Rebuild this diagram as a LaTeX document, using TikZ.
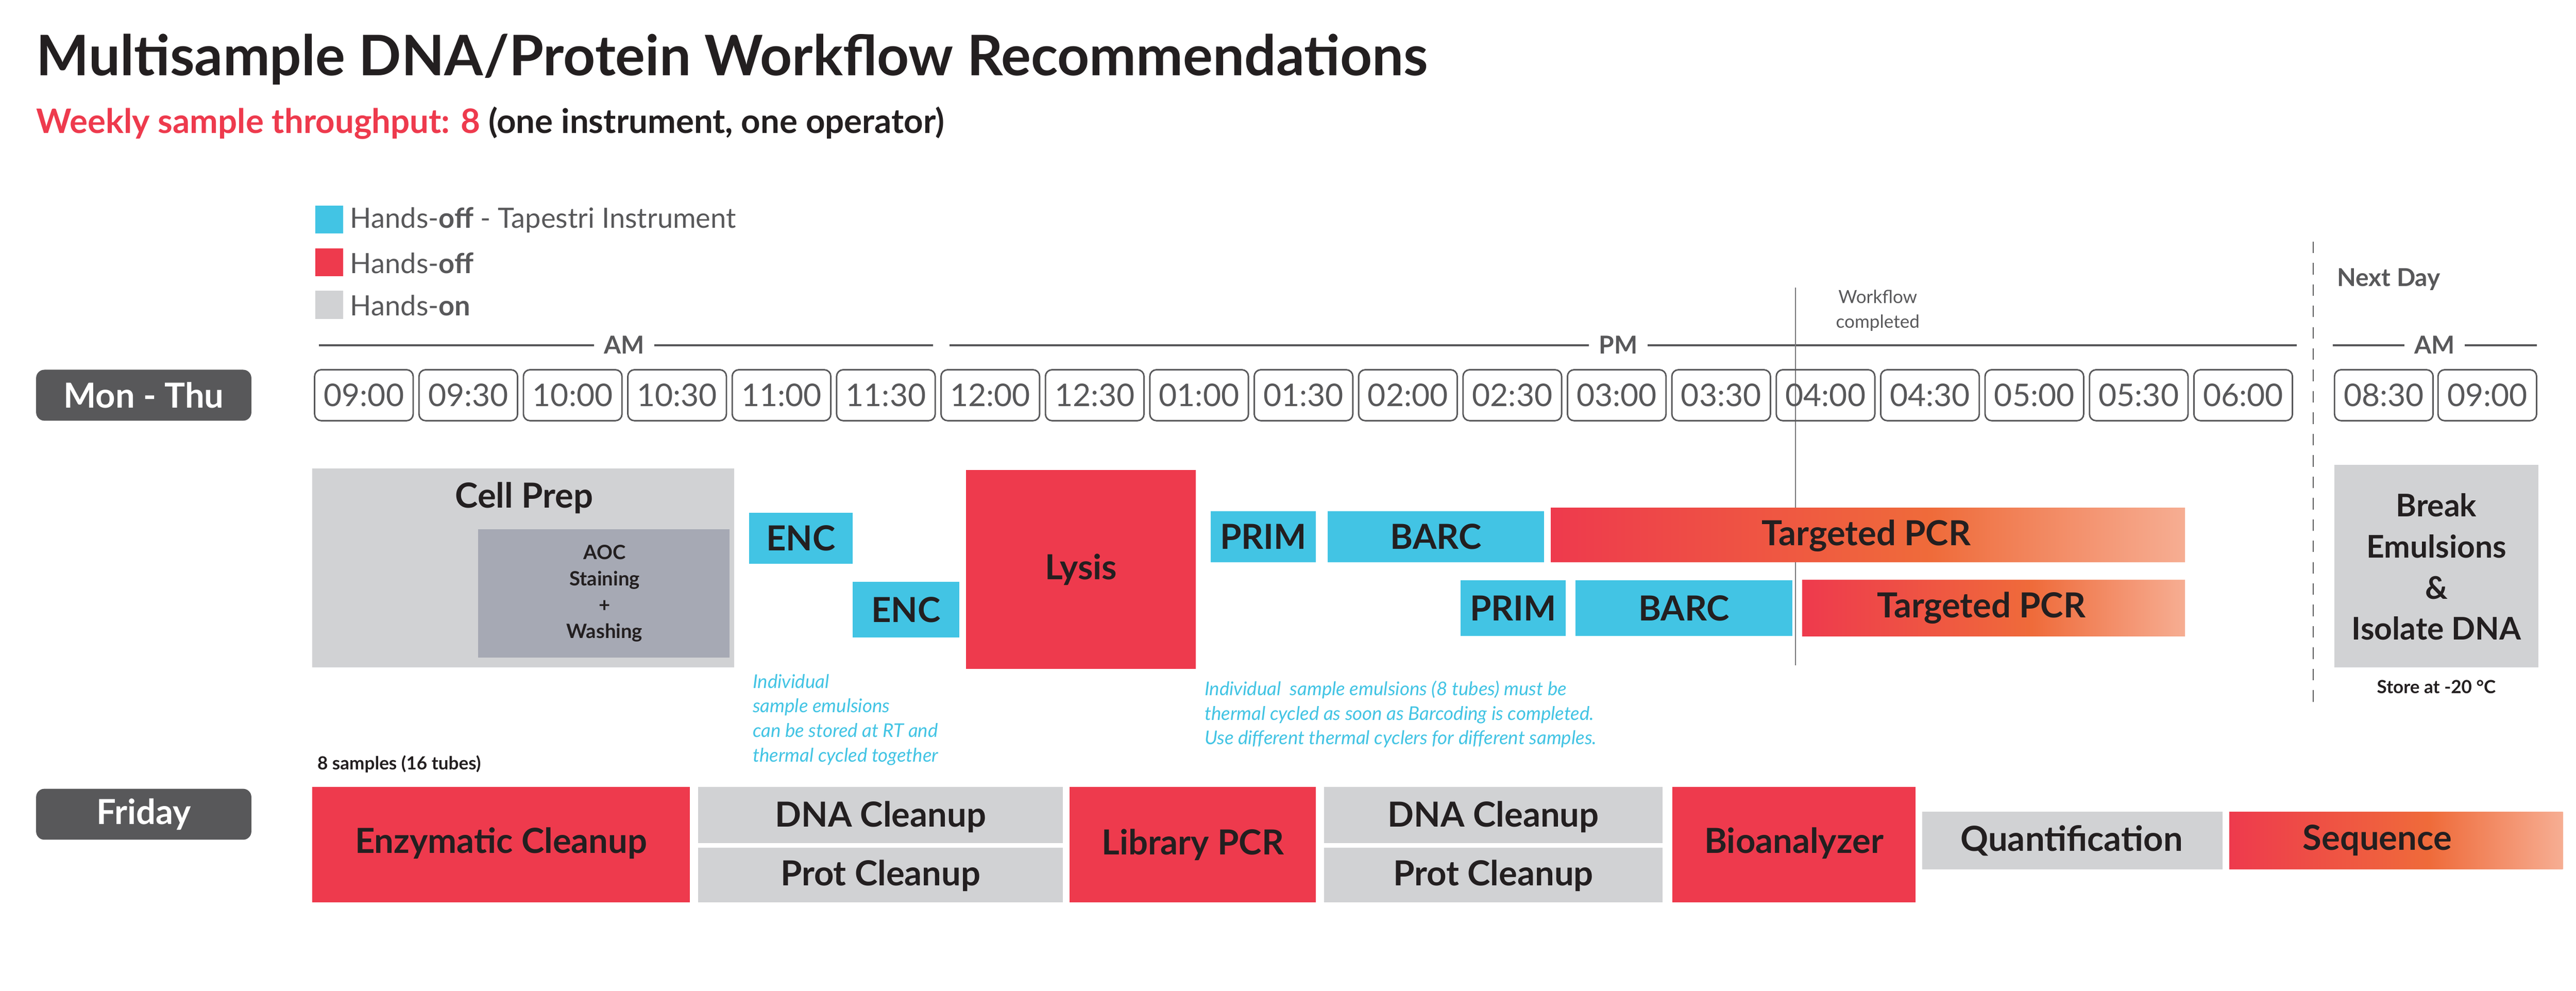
\documentclass[tikz,border=0pt]{standalone}
\usepackage{fontspec}
\setmainfont{Lato}
\usetikzlibrary{calc}
\definecolor{cy}{HTML}{42C4E4}
\definecolor{rd}{HTML}{EE3A4D}
\definecolor{gr}{HTML}{D1D2D4}
\definecolor{dg}{HTML}{A6A9B4}
\definecolor{tx}{HTML}{231F20}
\definecolor{pill}{HTML}{58585A}
\definecolor{og}{HTML}{EF6B3A}
\pgfdeclarehorizontalshading{pcr}{100bp}{color(0bp)=(rd);color(25bp)=(rd);color(55bp)=(og);color(75bp)=(og!55!white);color(75.01bp)=(white);color(100bp)=(white)}
\tikzset{
 blk/.style={inner sep=0,outer sep=0,text=tx,font=\bfseries\fontsize{21}{24}\selectfont},
 tbox/.style={draw=pill,line width=0.9pt,rounded corners=4pt,minimum width=60pt,minimum height=31pt,inner sep=0,text=pill,font=\fontsize{19}{20}\selectfont},
 pillst/.style={fill=pill,rounded corners=5pt,minimum width=131pt,minimum height=31pt,inner sep=0,text=white,font=\bfseries\fontsize{21}{24}\selectfont},
 note/.style={text=cy,font=\itshape\fontsize{11.5}{15}\selectfont,align=left,anchor=north west,inner sep=0},
 hdr/.style={text=pill,font=\bfseries\fontsize{15}{16}\selectfont,fill=white,inner xsep=6pt,inner ysep=1pt},
}
\begin{document}
\begin{tikzpicture}[x=1pt,y=-1pt]
\useasboundingbox[fill=white] (0,0) rectangle (1568,603);
% title
\node[anchor=base west,inner sep=0,text=tx,font=\bfseries\fontsize{34}{36}\selectfont] (title) at (22,46) {Multisample DNA/Protein Workflow Recommendations};
\node[anchor=base west,inner sep=0,font=\bfseries\fontsize{20.5}{22}\selectfont] (sub) at (22,81) {\textcolor{rd}{Weekly sample throughput: 8} \textcolor{tx}{(one instrument, one operator)}};
% legend
\fill[cy] (192,125) rectangle (209,142);
\fill[rd] (192,151) rectangle (209,168);
\fill[gr] (192,177) rectangle (209,194);
\node[anchor=west,inner sep=0,text=pill,font=\fontsize{17}{18}\selectfont] (l1) at (213,134) {Hands-\textbf{off} - Tapestri Instrument};
\node[anchor=west,inner sep=0,text=pill,font=\fontsize{17}{18}\selectfont] (l2) at (213,160) {Hands-\textbf{off}};
\node[anchor=west,inner sep=0,text=pill,font=\fontsize{17}{18}\selectfont] (l3) at (213,186) {Hands-\textbf{on}};
% AM/PM lines
\draw[pill,line width=1.2pt] (194,210) -- (568,210);
\node[hdr] (am) at (380,210) {AM};
\draw[pill,line width=1.2pt] (578,210) -- (1398,210);
\node[hdr] (pm) at (985,210) {PM};
\draw[pill,line width=1.2pt] (1420,210) -- (1544,210);
\node[hdr] (am2) at (1482,210) {AM};
\node[text=pill,font=\bfseries\fontsize{15}{16}\selectfont] (nd) at (1454,170) {Next Day};
\draw[pill,line width=0.8pt,dash pattern=on 7pt off 6pt] (1408,147) -- (1408,432);
\draw[pill!80,line width=0.6pt] (1093,175) -- (1093,405);
\node[text=pill,font=\fontsize{11}{15}\selectfont,align=center] (wf) at (1143,189) {Workflow\\completed};
% times
\node[pillst] (mon) at (87.5,240.5) {Mon - Thu};
\foreach \t [count=\i from 0] in {09:00,09:30,10:00,10:30,11:00,11:30,12:00,12:30,01:00,01:30,02:00,02:30,03:00,03:30,04:00,04:30,05:00,05:30,06:00}{
 \node[tbox] (t\i) at ({221.5+63.55*\i},240.5) {\t};
}
\node[tbox] (n1) at (1451,240.5) {08:30};
\node[tbox] (n2) at (1514,240.5) {09:00};
% Mon-Thu blocks
\fill[gr] (190,285) rectangle (447,406);
\node[blk] (cp) at (319,303) {Cell Prep};
\fill[dg] (291,322) rectangle (444,400);
\node[blk,align=center,font=\bfseries\fontsize{12}{16}\selectfont] (aoc) at (368,361) {AOC\\Staining\\+\\Washing};
\fill[cy] (456,312) rectangle (519,343); \node[blk] (enc1) at (487.5,327.5) {ENC};
\fill[cy] (519,354) rectangle (584,388); \node[blk] (enc2) at (551.5,371) {ENC};
\fill[rd] (588,286) rectangle (728,407); \node[blk] (lys) at (658,346.5) {Lysis};
\fill[cy] (737,311) rectangle (801,342); \node[blk] (p1) at (769,326.5) {PRIM};
\fill[cy] (808,311) rectangle (940,342); \node[blk] (b1) at (874,326.5) {BARC};
\shade[shading=pcr] (944,309) rectangle (1330,342); \node[blk] (tp1) at (1136,326) {Targeted PCR};
\fill[cy] (889,353) rectangle (953,387); \node[blk] (p2) at (921,370) {PRIM};
\fill[cy] (959,353) rectangle (1091,387); \node[blk] (b2) at (1025,370) {BARC};
\shade[shading=pcr] (1097,353) rectangle (1330,387); \node[blk] (tp2) at (1206,370) {Targeted PCR};
\fill[gr] (1421,283) rectangle (1545,406);
\node[blk,align=center,font=\bfseries\fontsize{19}{25}\selectfont] (brk) at (1483,345) {Break\\Emulsions\\\&\\Isolate DNA};
\node[text=tx,font=\bfseries\fontsize{11}{12}\selectfont] (st) at (1483,418) {Store at -20 °C};
% notes
\node[note] (n1t) at (458,410) {Individual\\ sample emulsions\\ can be stored at RT and\\ thermal cycled together};
\node[note] (n2t) at (733,414) {Individual \ sample emulsions (8 tubes) must be\\thermal cycled as soon as Barcoding is completed.\\Use different thermal cyclers for different samples.};
\node[anchor=west,inner sep=0,text=tx,font=\bfseries\fontsize{11}{12}\selectfont] (ns) at (193,465) {8 samples (16 tubes)};
% Friday
\node[pillst] (fri) at (87.5,495.5) {Friday};
\fill[rd] (190,479) rectangle (420,549); \node[blk] (ec) at (305,513) {Enzymatic Cleanup};
\fill[gr] (425,479) rectangle (647,513); \node[blk] (d1) at (536,497) {DNA Cleanup};
\fill[gr] (425,516) rectangle (647,549); \node[blk] (pc1) at (536,533) {Prot Cleanup};
\fill[rd] (651,479) rectangle (801,549); \node[blk] (lp) at (726,514) {Library PCR};
\fill[gr] (806,479) rectangle (1012,513); \node[blk] (d2) at (909,497) {DNA Cleanup};
\fill[gr] (806,516) rectangle (1012,549); \node[blk] (pc2) at (909,533) {Prot Cleanup};
\fill[rd] (1018,479) rectangle (1166,549); \node[blk] (bio) at (1092,513) {Bioanalyzer};
\fill[gr] (1170,494) rectangle (1353,529); \node[blk] (q) at (1261,511.5) {Quantification};
\shade[shading=pcr] (1357,494) rectangle (1560,529); \node[blk] (seq) at (1447,511.5) {Sequence};
\end{tikzpicture}
\end{document}
